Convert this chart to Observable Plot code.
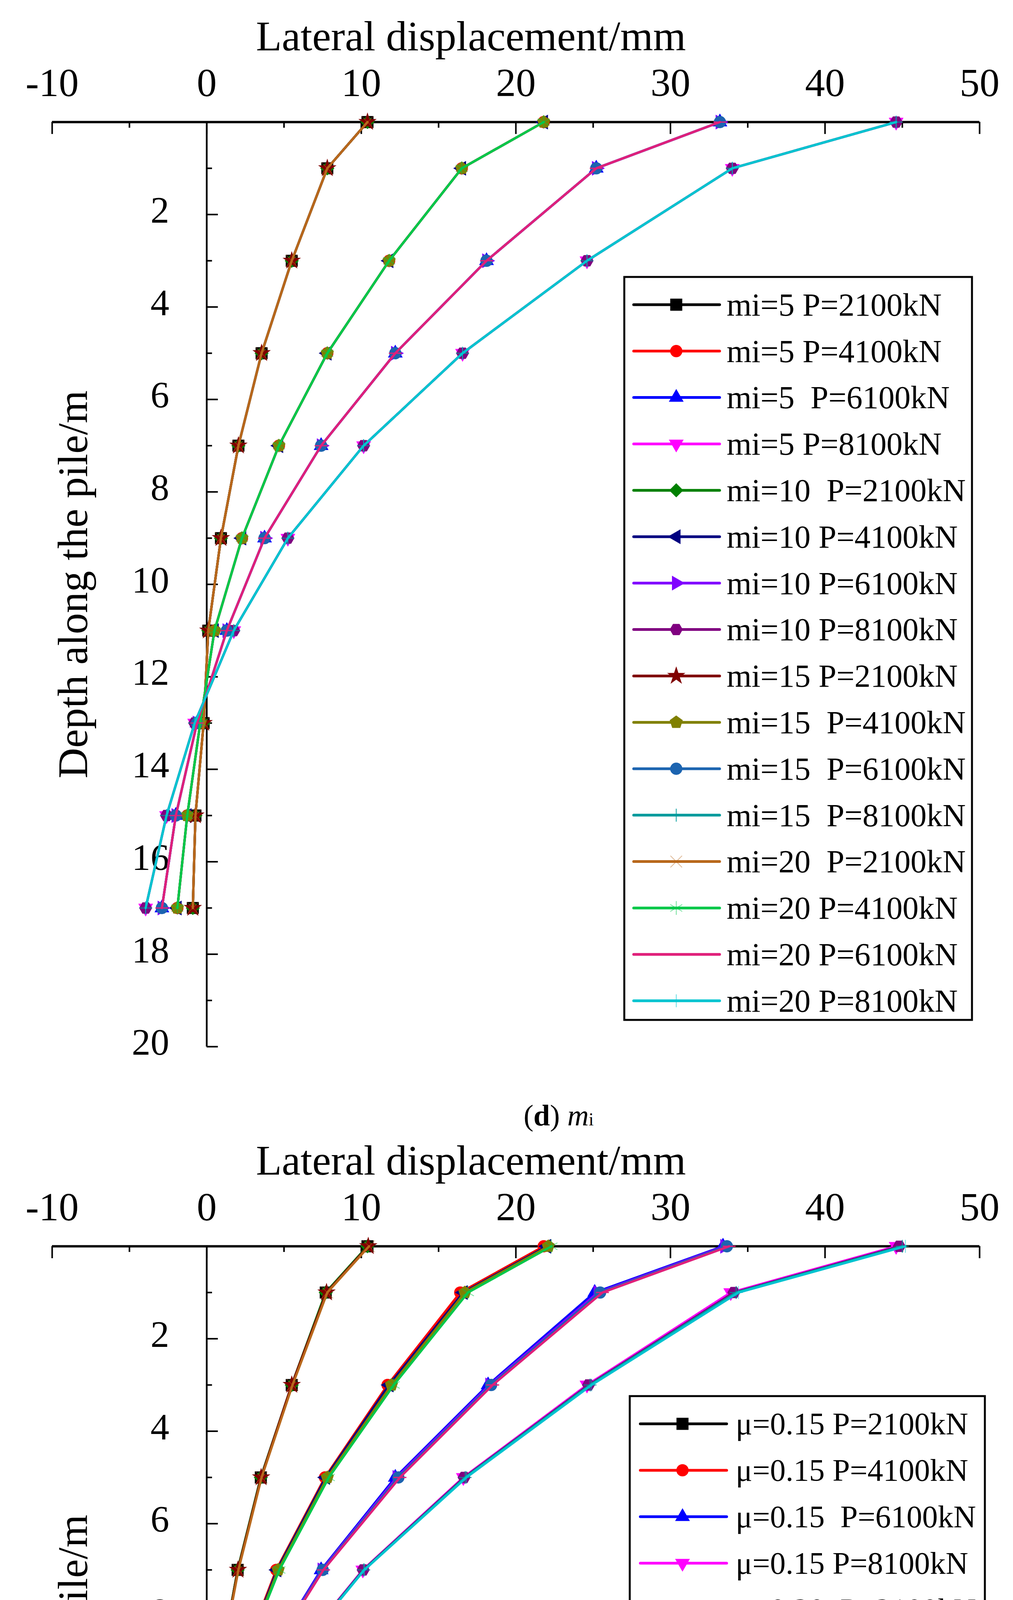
<!DOCTYPE html>
<html><head><meta charset="utf-8">
<script src="https://cdn.jsdelivr.net/npm/d3@7"></script>
<script src="https://cdn.jsdelivr.net/npm/@observablehq/plot@0.6"></script>
<style>
html,body{margin:0;padding:0;background:#fff;}
#wrap{position:relative;width:2593px;height:5798px;font-family:'Liberation Serif','Times New Roman',serif;background:#fff;}
.panel{position:absolute;left:0;}
.cap{position:absolute;font-size:76px;line-height:76px;white-space:nowrap;transform:translateX(-50%);color:#000;}
</style></head><body><div id="wrap"></div>
<script>
// ---------- shared axis values ----------
const depth = [0, 1, 3, 5, 7, 9, 11, 13, 15, 17];
const xTickValues = [-10, 0, 10, 20, 30, 40, 50];
const xMinorValues = [-5, 5, 15, 25, 35, 45];
const yTickValues = [2, 4, 6, 8, 10, 12, 14, 16, 18, 20];
const yMinorValues = [1, 3, 5, 7, 9, 11, 13, 15, 17, 19];
const xTitle = "Lateral displacement/mm";
const yTitle = "Depth along the pile/m";

// ---------- panel (d): mi (curves of the four mi values coincide) ----------
const mi_P2100 = [10.4, 7.8, 5.5, 3.55, 2.05, 0.92, 0.1, -0.2, -0.73, -0.9];
const mi_P4100 = [21.8, 16.5, 11.8, 7.8, 4.67, 2.28, 0.5, -0.42, -1.26, -1.9];
const mi_P6100 = [33.2, 25.2, 18.1, 12.2, 7.4, 3.74, 1.3, -0.63, -2.0, -2.9];
const mi_P8100 = [44.6, 34.0, 24.6, 16.55, 10.15, 5.25, 1.75, -0.78, -2.6, -3.95];
const miLabels = [
  "mi=5 P=2100kN", "mi=5 P=4100kN", "mi=5  P=6100kN", "mi=5 P=8100kN",
  "mi=10  P=2100kN", "mi=10 P=4100kN", "mi=10 P=6100kN", "mi=10 P=8100kN",
  "mi=15 P=2100kN", "mi=15  P=4100kN", "mi=15  P=6100kN", "mi=15  P=8100kN",
  "mi=20  P=2100kN", "mi=20 P=4100kN", "mi=20 P=6100kN", "mi=20 P=8100kN"
];

// ---------- panel (e): Poisson's ratio ----------
const mu015_P2100 = [10.4, 7.7, 5.5, 3.5, 2.0, 0.9, 0.1, -0.2, -0.72, -0.92];
const mu015_P4100 = [21.8, 16.4, 11.7, 7.65, 4.5, 2.2, 0.4, -0.4, -1.3, -1.8];
const mu015_P6100 = [33.4, 25.1, 18.2, 12.2, 7.4, 3.7, 1.2, -0.6, -2.0, -2.85];
const mu015_P8100 = [44.6, 33.9, 24.6, 16.6, 10.1, 5.2, 1.7, -0.8, -2.7, -4.0];
const mu020_P2100 = [10.4, 7.7, 5.5, 3.5, 2.0, 0.9, 0.1, -0.2, -0.73, -0.93];
const mu020_P4100 = [22.0, 16.6, 11.8, 7.7, 4.55, 2.25, 0.42, -0.42, -1.33, -1.87];
const mu020_P6100 = [33.5, 25.3, 18.3, 12.3, 7.45, 3.72, 1.27, -0.63, -2.07, -2.95];
const mu020_P8100 = [44.8, 34.1, 24.7, 16.65, 10.12, 5.22, 1.73, -0.83, -2.78, -4.12];
const mu025_P2100 = [10.45, 7.75, 5.5, 3.52, 2.02, 0.91, 0.1, -0.21, -0.74, -0.94];
const mu025_P4100 = [22.1, 16.7, 11.95, 7.8, 4.62, 2.27, 0.44, -0.43, -1.37, -1.94];
const mu025_P6100 = [33.65, 25.45, 18.4, 12.4, 7.5, 3.76, 1.32, -0.66, -2.13, -3.05];
const mu025_P8100 = [45.0, 34.25, 24.8, 16.72, 10.16, 5.26, 1.77, -0.86, -2.86, -4.23];
const mu030_P2100 = [10.5, 7.8, 5.55, 3.55, 2.05, 0.92, 0.1, -0.22, -0.75, -0.95];
const mu030_P4100 = [22.3, 16.9, 12.1, 7.9, 4.7, 2.3, 0.45, -0.45, -1.4, -2.0];
const mu030_P6100 = [33.8, 25.6, 18.5, 12.5, 7.55, 3.8, 1.37, -0.7, -2.2, -3.15];
const mu030_P8100 = [45.2, 34.4, 24.9, 16.8, 10.2, 5.3, 1.8, -0.9, -2.94, -4.35];
const muLabels = [
  "μ=0.15 P=2100kN", "μ=0.15 P=4100kN", "μ=0.15  P=6100kN", "μ=0.15 P=8100kN",
  "μ=0.20  P=2100kN", "μ=0.20 P=4100kN", "μ=0.20 P=6100kN", "μ=0.20 P=8100kN",
  "μ=0.25 P=2100kN", "μ=0.25  P=4100kN", "μ=0.25  P=6100kN", "μ=0.25  P=8100kN",
  "μ=0.30  P=2100kN", "μ=0.30 P=4100kN", "μ=0.30 P=6100kN", "μ=0.30 P=8100kN"
];

const miSeries = [
  mi_P2100, mi_P4100, mi_P6100, mi_P8100,
  mi_P2100, mi_P4100, mi_P6100, mi_P8100,
  mi_P2100, mi_P4100, mi_P6100, mi_P8100,
  mi_P2100, mi_P4100, mi_P6100, mi_P8100
];
const muSeries = [
  mu015_P2100, mu015_P4100, mu015_P6100, mu015_P8100,
  mu020_P2100, mu020_P4100, mu020_P6100, mu020_P8100,
  mu025_P2100, mu025_P4100, mu025_P6100, mu025_P8100,
  mu030_P2100, mu030_P4100, mu030_P6100, mu030_P8100
];

// ---------- styles ----------
const seriesColors = ["#000000","#FF0000","#0000FF","#FF00FF","#008000","#000080","#8000FF","#800080",
  "#800000","#808000","#1C64B0","#009A9C","#B8681C","#00C84A","#E0207A","#00C4D0"];
const markerNames = ["square","circle","tri-up","tri-down","diamond","tri-left","tri-right","hexagon",
  "star","pentagon","circle","plus","times","asterisk","dash","bar"];

function polygon(n, a0) {
  return {draw(ctx, size) {
    const R = Math.sqrt(2 * size / (n * Math.sin(2 * Math.PI / n)));
    for (let k = 0; k < n; k++) {
      const a = a0 + k * 2 * Math.PI / n;
      const px = R * Math.cos(a), py = R * Math.sin(a);
      if (k === 0) ctx.moveTo(px, py); else ctx.lineTo(px, py);
    }
    ctx.closePath();
  }};
}
const dashSym = {draw(ctx, size) { const w = Math.sqrt(size) / 2; ctx.moveTo(-w, 0); ctx.lineTo(w, 0); }};
const barSym = {draw(ctx, size) { const w = Math.sqrt(size) / 2; ctx.moveTo(0, -w); ctx.lineTo(0, w); }};
const plusSym = {draw(ctx, size) { const w = Math.sqrt(size) / 2; ctx.moveTo(-w, 0); ctx.lineTo(w, 0); ctx.moveTo(0, -w); ctx.lineTo(0, w); }};
const timesSym = {draw(ctx, size) { const w = Math.sqrt(size) / 2 * 0.72; ctx.moveTo(-w, -w); ctx.lineTo(w, w); ctx.moveTo(-w, w); ctx.lineTo(w, -w); }};
const asteriskSym = {draw(ctx, size) { const w = Math.sqrt(size) / 2;
  for (let k = 0; k < 3; k++) { const a = Math.PI / 2 + k * Math.PI / 3; ctx.moveTo(-w * Math.cos(a), -w * Math.sin(a)); ctx.lineTo(w * Math.cos(a), w * Math.sin(a)); } }};

const markerDefs = {
  "square":   {sym: d3.symbolSquare, area: 860, filled: true},
  "circle":   {sym: d3.symbolCircle, area: 700, filled: true},
  "tri-up":   {sym: polygon(3, -Math.PI / 2), area: 540, filled: true},
  "tri-down": {sym: polygon(3, Math.PI / 2), area: 540, filled: true},
  "diamond":  {sym: polygon(4, 0), area: 580, filled: true},
  "tri-left": {sym: polygon(3, Math.PI), area: 540, filled: true},
  "tri-right":{sym: polygon(3, 0), area: 540, filled: true},
  "hexagon":  {sym: polygon(6, 0), area: 650, filled: true},
  "star":     {sym: d3.symbolStar, area: 560, filled: true},
  "pentagon": {sym: polygon(5, -Math.PI / 2), area: 660, filled: true},
  "plus":     {sym: plusSym, area: 1100, filled: false, sw: 2.5, op: 0.8},
  "times":    {sym: timesSym, area: 1700, filled: false, sw: 2, op: 0.45},
  "asterisk": {sym: asteriskSym, area: 1250, filled: false, sw: 2, op: 0.55},
  "dash":     {sym: dashSym, area: 1100, filled: false, sw: 3, op: 1},
  "bar":      {sym: barSym, area: 1100, filled: false, sw: 2, op: 0.6}
};

const FONT = "'Liberation Serif','Times New Roman',serif";
const W = 2593, H = 2878, MT = 312, MB = 199, ML = 133, MR = 86;
const innerW = W - ML - MR, innerH = H - MT - MB;
const xAxisPos = innerW * 10 / 60; // pixel offset of x = 0 inside the frame

function panel(series, labels, legendLayout) {
  const marks = [
    Plot.ruleY([0], {stroke: "black", strokeWidth: 6}),
    Plot.ruleX([0], {stroke: "black", strokeWidth: 4.5}),
    Plot.tickX(xTickValues, {x: d => d, insetBottom: innerH - 31, stroke: "black", strokeWidth: 4}),
    Plot.tickX(xMinorValues, {x: d => d, insetBottom: innerH - 15, stroke: "black", strokeWidth: 4}),
    Plot.tickY(yTickValues, {y: d => d, insetLeft: xAxisPos, insetRight: innerW - xAxisPos - 29, stroke: "black", strokeWidth: 4}),
    Plot.tickY(yMinorValues, {y: d => d, insetLeft: xAxisPos, insetRight: innerW - xAxisPos - 14, stroke: "black", strokeWidth: 4}),
    Plot.text(xTickValues, {x: d => d, text: d => String(d), frameAnchor: "top", dy: -67, lineAnchor: "bottom", fontSize: 102, fill: "black"}),
    Plot.text(yTickValues, {x: 0, y: d => d, text: d => String(d), dx: -96, dy: -10, textAnchor: "end", fontSize: 96, fill: "black"}),
    Plot.text([xTitle], {text: d => d, frameAnchor: "top-left", dx: 1205 - ML, dy: 128 - MT, lineAnchor: "bottom", textAnchor: "middle", fontSize: 108, fill: "black"}),
    Plot.text([yTitle], {text: d => d, frameAnchor: "left", dx: 188 - ML, rotate: -90, lineAnchor: "middle", textAnchor: "middle", fontSize: 108, fill: "black"})
  ];
  series.forEach((vals, i) => {
    const pts = depth.map((d, j) => ({x: vals[j], y: d}));
    const col = seriesColors[i];
    const m = markerDefs[markerNames[i]];
    marks.push(Plot.line(pts, {x: "x", y: "y", stroke: col, strokeWidth: 6, strokeLinejoin: "round", strokeLinecap: "round"}));
    marks.push(Plot.dot(pts, {
      x: "x", y: "y", symbol: m.sym, r: Math.sqrt(m.area / Math.PI),
      fill: m.filled ? col : "none", stroke: col,
      strokeWidth: m.filled ? 1.5 : m.sw, strokeOpacity: m.filled ? 1 : m.op
    }));
  });
  const svg = Plot.plot({
    width: W, height: H,
    marginTop: MT, marginBottom: MB, marginLeft: ML, marginRight: MR,
    x: {domain: [-10, 50], axis: null},
    y: {domain: [0, 20], reverse: true, axis: null},
    style: {fontFamily: FONT, background: "white", overflow: "visible"},
    marks
  });
  drawLegend(svg, labels, legendLayout);
  return svg;
}

function drawLegend(svg, labels, L) {
  const g = d3.select(svg).append("g").attr("class", "legend").attr("text-anchor", "start");
  g.append("rect").attr("x", L.x0).attr("y", L.y0).attr("width", L.x1 - L.x0).attr("height", L.y1 - L.y0)
    .attr("fill", "white").attr("stroke", "black").attr("stroke-width", 5);
  labels.forEach((lab, i) => {
    const y = L.row0 + i * L.step;
    const col = seriesColors[i];
    const m = markerDefs[markerNames[i]];
    g.append("line").attr("x1", L.lx0).attr("x2", L.lx1).attr("y1", y).attr("y2", y)
      .attr("stroke", col).attr("stroke-width", 7).attr("stroke-linecap", "round");
    g.append("path").attr("d", d3.symbol(m.sym, m.area)()).attr("transform", `translate(${L.mx},${y})`)
      .attr("fill", m.filled ? col : "none").attr("stroke", col)
      .attr("stroke-width", m.filled ? 1.5 : m.sw).attr("stroke-opacity", m.filled ? 1 : m.op);
    g.append("text").attr("x", L.tx).attr("y", y + 0.34 * L.fs).attr("font-size", L.fs)
      .attr("text-anchor", "start").style("text-anchor", "start")
      .attr("font-family", FONT).attr("fill", "black").style("white-space", "pre").text(lab);
  });
}

const wrap = document.getElementById("wrap");
const svgD = panel(miSeries, miLabels, {x0: 1598, x1: 2488, y0: 709, y1: 2611, row0: 780, step: 118.8, lx0: 1622, lx1: 1842, mx: 1731, tx: 1860, fs: 82});
svgD.classList.add("panel"); svgD.style.top = "0px";
wrap.appendChild(svgD);

const svgE = panel(muSeries, muLabels, {x0: 1612, x1: 2521, y0: 696, y1: 2600, row0: 767, step: 118.9, lx0: 1639, lx1: 1860, mx: 1747, tx: 1883, fs: 80});
svgE.classList.add("panel"); svgE.style.top = H + "px";
wrap.appendChild(svgE);

const capD = document.createElement("div");
capD.className = "cap"; capD.style.left = "1430px"; capD.style.top = "2817px";
capD.innerHTML = '(<b>d</b>) <i>m</i><span style="font-size:0.6em">i</span>';
wrap.appendChild(capD);

const capE = document.createElement("div");
capE.className = "cap"; capE.style.left = "1427px"; capE.style.top = "5693px";
capE.innerHTML = '(<b>e</b>) Poisson’s ratio';
wrap.appendChild(capE);
</script></body></html>
